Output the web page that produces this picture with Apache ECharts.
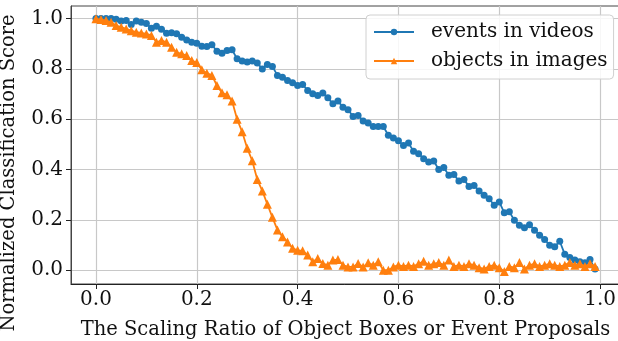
<!DOCTYPE html>
<html>
<head>
<meta charset="utf-8">
<script src="https://cdn.jsdelivr.net/npm/echarts@6/dist/echarts.min.js"></script>
<style>
html, body { margin: 0; padding: 0; background: #fff; }
#chart { width: 618px; height: 341px; }
</style>
</head>
<body>
<div id="chart"></div>
<script>
// scaling ratio sampled every 0.01 from 0.00 to 0.99
var seriesNames = ['events in videos', 'objects in images'];
var tickValues = [0, 0.2, 0.4, 0.6, 0.8, 1.0];

var eventsInVideos = [
    1.0, 1.0, 1.0, 1.0, 0.997, 0.99, 0.992, 0.976, 0.99, 0.985,
    0.98, 0.962, 0.97, 0.958, 0.942, 0.944, 0.94, 0.926, 0.915, 0.906,
    0.902, 0.89, 0.889, 0.896, 0.87, 0.862, 0.873, 0.876, 0.84, 0.831,
    0.827, 0.831, 0.823, 0.8, 0.817, 0.81, 0.774, 0.767, 0.754, 0.745,
    0.734, 0.738, 0.714, 0.701, 0.694, 0.704, 0.685, 0.661, 0.672, 0.648,
    0.638, 0.611, 0.615, 0.593, 0.585, 0.571, 0.571, 0.571, 0.536, 0.525,
    0.514, 0.496, 0.505, 0.473, 0.463, 0.443, 0.43, 0.434, 0.4, 0.408,
    0.377, 0.38, 0.354, 0.36, 0.333, 0.337, 0.315, 0.298, 0.284, 0.258,
    0.271, 0.228, 0.232, 0.198, 0.179, 0.169, 0.181, 0.159, 0.139, 0.122,
    0.099, 0.093, 0.115, 0.063, 0.05, 0.04, 0.033, 0.029, 0.042, 0.005
];

var objectsInImages = [
    0.999, 0.996, 0.992, 0.985, 0.972, 0.966, 0.959, 0.952, 0.946, 0.943,
    0.939, 0.933, 0.906, 0.913, 0.906, 0.886, 0.866, 0.86, 0.853, 0.833,
    0.825, 0.797, 0.783, 0.774, 0.734, 0.705, 0.697, 0.672, 0.6, 0.55,
    0.485, 0.435, 0.36, 0.315, 0.262, 0.21, 0.16, 0.133, 0.112, 0.087,
    0.079, 0.077, 0.06, 0.033, 0.046, 0.026, 0.02, 0.04, 0.042, 0.02,
    0.013, 0.013, 0.026, 0.013, 0.029, 0.02, 0.033, 0.0, 0.0, 0.013,
    0.02, 0.015, 0.02, 0.015, 0.025, 0.035, 0.02, 0.025, 0.03, 0.02,
    0.04, 0.015, 0.02, 0.015, 0.025, 0.02, 0.01, 0.005, 0.015, 0.02,
    0.01, -0.005, 0.015, 0.01, 0.03, 0.005, 0.02, 0.025, 0.015, 0.02,
    0.025, 0.02, 0.015, 0.02, 0.03, 0.02, 0.025, 0.015, 0.025, 0.015
];

function pairUp(values) {
    var out = [];
    for (var i = 0; i < values.length; i++) {
        out.push([i / 100, values[i]]);
    }
    return out;
}

var font = 'DejaVu Serif';

var dom = document.getElementById('chart');
var myChart = echarts.init(dom, null, { renderer: 'canvas' });
var option = {
    animation: false,
    backgroundColor: '#fff',
    grid: {
        show: true,
        left: 71,
        right: -2,
        top: 6,
        bottom: 57,
        outerBoundsMode: 'none',
        containLabel: false,
        borderColor: '#444',
        borderWidth: 1,
        backgroundColor: 'transparent'
    },
    legend: {
        orient: 'vertical',
        left: 366,
        top: 15,
        padding: [6, 6, 7, 7],
        itemGap: 7,
        itemWidth: 40,
        itemHeight: 8,
        backgroundColor: 'rgba(255,255,255,0.85)',
        borderColor: '#d0d0d0',
        borderWidth: 1,
        borderRadius: 4,
        textStyle: {
            fontFamily: font,
            fontSize: 20,
            lineHeight: 22,
            color: '#111',
            padding: [0, 0, 0, 12]
        },
        data: seriesNames
    },
    xAxis: {
        type: 'value',
        min: -0.0495,
        max: 1.0395,
        name: 'The Scaling Ratio of Object Boxes or Event Proposals',
        nameLocation: 'middle',
        nameGap: 36,
        nameTextStyle: { fontFamily: font, fontSize: 19.5, color: '#111' },
        axisLine: { show: true, onZero: false, lineStyle: { color: '#222', width: 1 } },
        axisTick: { show: true, length: 5, customValues: tickValues, lineStyle: { color: '#222' } },
        axisLabel: {
            customValues: tickValues,
            margin: 6,
            fontFamily: font,
            fontSize: 20,
            color: '#111',
            formatter: function (v) { return v.toFixed(1); }
        },
        splitLine: { show: true, lineStyle: { color: '#c8c8c8', width: 1.2 } }
    },
    yAxis: {
        type: 'value',
        min: -0.055,
        max: 1.05,
        name: 'Normalized Classification Score',
        nameLocation: 'middle',
        nameGap: 52,
        nameRotate: 90,
        nameTextStyle: { fontFamily: font, fontSize: 19.5, color: '#111', padding: [0, 56, 0, 0] },
        axisLine: { show: true, onZero: false, lineStyle: { color: '#444', width: 1 } },
        axisTick: { show: true, length: 5, customValues: tickValues, lineStyle: { color: '#222' } },
        axisLabel: {
            customValues: tickValues,
            margin: 8,
            fontFamily: font,
            fontSize: 20,
            color: '#111',
            formatter: function (v) { return v.toFixed(1); }
        },
        splitLine: { show: true, lineStyle: { color: '#c8c8c8', width: 1.2 } }
    },
    series: [
        {
            name: seriesNames[0],
            type: 'line',
            data: pairUp(eventsInVideos),
            symbol: 'circle',
            symbolSize: 7,
            showAllSymbol: true,
            color: '#1f77b4',
            lineStyle: { width: 1.8, color: '#1f77b4' },
            itemStyle: { color: '#1f77b4' },
            z: 3
        },
        {
            name: seriesNames[1],
            type: 'line',
            data: pairUp(objectsInImages),
            symbol: 'triangle',
            symbolSize: 9,
            showAllSymbol: true,
            color: '#ff7f0e',
            lineStyle: { width: 1.8, color: '#ff7f0e' },
            itemStyle: { color: '#ff7f0e' },
            z: 4
        }
    ]
};
if (option && typeof option === "object") {
    myChart.setOption(option, true);
}
</script>
</body>
</html>
